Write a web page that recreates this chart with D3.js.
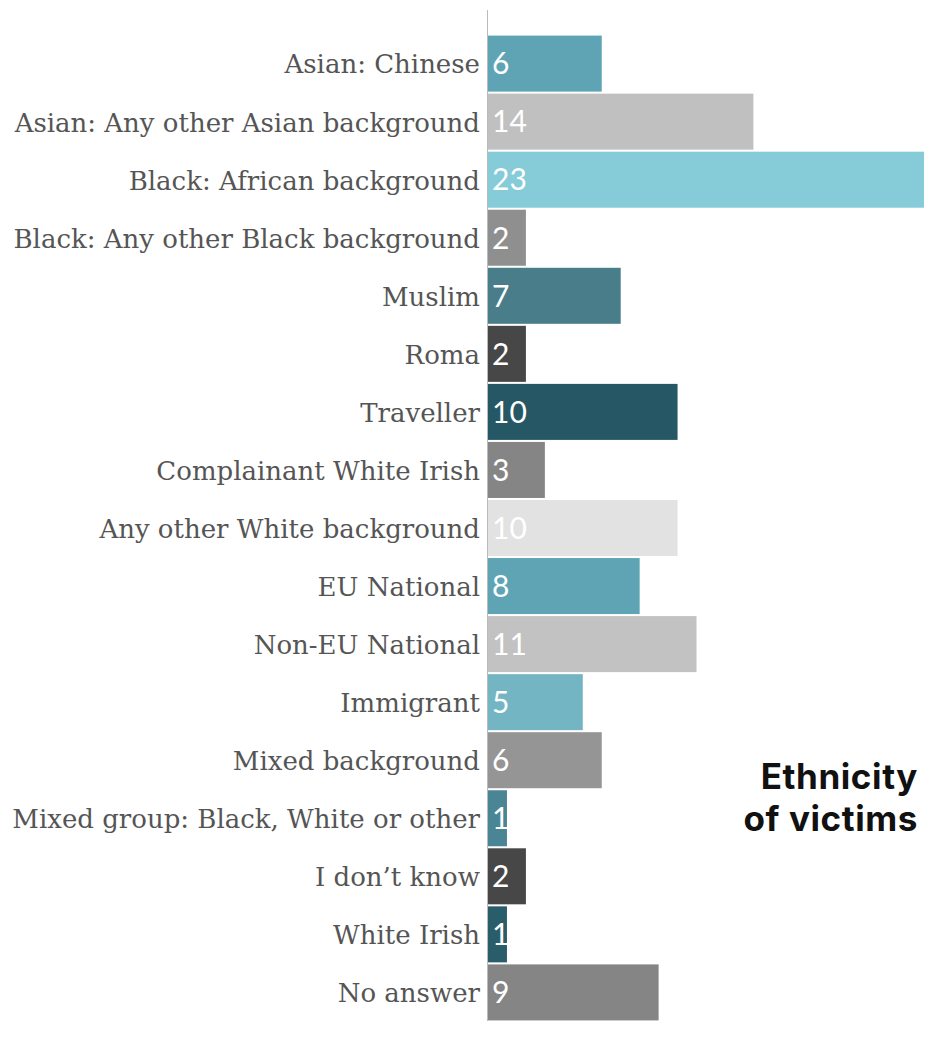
<!DOCTYPE html>
<html><head><meta charset="utf-8">
<script src="https://cdn.jsdelivr.net/npm/d3@7"></script>
<style>body{margin:0;background:#fff}</style>
</head><body>
<svg id="c" width="928" height="1050"></svg>
<script>
const categories = ["Asian: Chinese","Asian: Any other Asian background","Black: African background","Black: Any other Black background","Muslim","Roma","Traveller","Complainant White Irish","Any other White background","EU National","Non-EU National","Immigrant","Mixed background","Mixed group: Black, White or other","I don\u2019t know","White Irish","No answer"];
const values = [6,14,23,2,7,2,10,3,10,8,11,5,6,1,2,1,9];
const colors = ["#5ea4b5","#c0c0c0","#86cbd8","#8f8f8f","#4a7d8a","#474747","#265764","#858585","#e2e2e2","#5ea4b5","#c2c2c2","#74b5c4","#959595","#4a8595","#474747","#2a5d6a","#858585"];
const titleLines = ["Ethnicity","of victims"];

const svg = d3.select("#c");
const x = d3.scaleLinear().domain([0,23]).range([488,924]);
const y = d3.scaleBand().domain(categories).range([35,1021]).paddingInner(0.035).paddingOuter(0.01);

svg.append("g").selectAll("rect").data(categories).join("rect")
  .attr("x", x(0)).attr("y", d=>y(d))
  .attr("width", (d,i)=>x(values[i])-x(0)).attr("height", y.bandwidth())
  .attr("fill", (d,i)=>colors[i]);

const ax = svg.append("g").attr("transform","translate(488,0)")
  .call(d3.axisLeft(y).tickSize(0).tickPadding(8));
ax.select(".domain").remove();
ax.selectAll("text").attr("font-family","'DejaVu Serif', serif").attr("font-size",26).attr("fill","#555").attr("dy","0.38em");

svg.append("line").attr("x1",487.5).attr("x2",487.5).attr("y1",10).attr("y2",1021)
  .attr("stroke","#bbb").attr("stroke-width",1);

svg.append("g").selectAll("text").data(categories).join("text")
  .attr("x", x(0)+4).attr("y", d=>y(d)+y.bandwidth()/2).attr("dy","0.36em")
  .attr("font-family","Lato, 'Open Sans', sans-serif").attr("font-size",30)
  .attr("fill","#fff").text((d,i)=>values[i]);

svg.append("g").selectAll("text").data(titleLines).join("text")
  .attr("x",918).attr("y",(d,i)=>789+i*42).attr("text-anchor","end")
  .attr("font-family","Inter, 'DejaVu Sans', sans-serif").attr("font-weight",700).attr("font-size",35)
  .attr("letter-spacing",0.6)
  .attr("fill","#111").text(d=>d);
</script>
</body></html>
